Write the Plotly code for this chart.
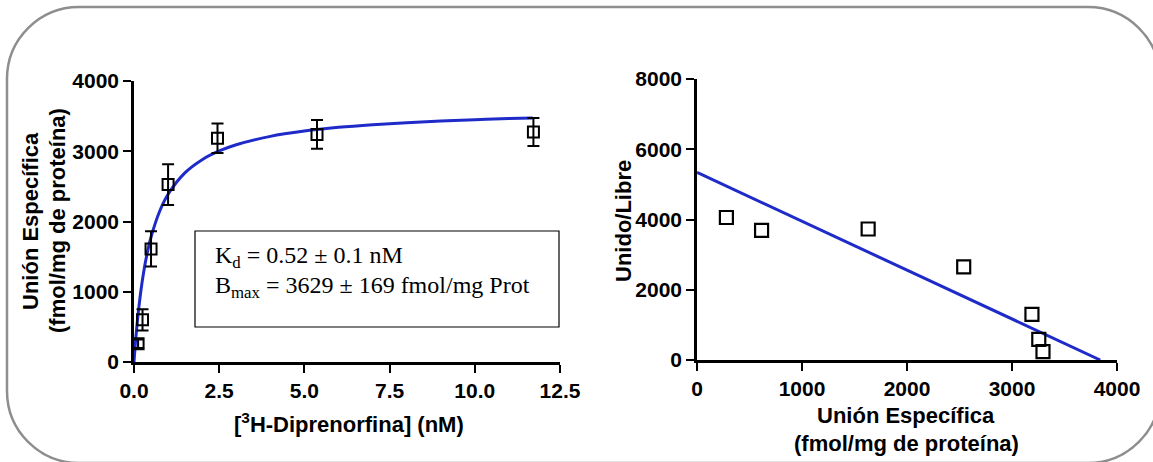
import plotly.graph_objects as go

W, H = 1153, 462

# ---- Saturation data (left) ----
conc_nM = [0.12, 0.25, 0.5, 1.0, 2.45, 5.37, 11.72]
bound = [260, 600, 1610, 2525, 3185, 3240, 3275]
bound_err = [60, 150, 250, 290, 210, 205, 200]

# fitted hyperbola
fit_x = [0.0, 0.05, 0.1, 0.2, 0.3, 0.4, 0.5, 0.75, 1.0, 1.5, 2.0, 2.5, 3.0, 4.0,
         5.0, 6.0, 7.0, 8.0, 9.0, 10.0, 11.0, 11.7]
fit_y = [0, 318, 585, 1008, 1328, 1578, 1779, 2143, 2388, 2695, 2880, 3004, 3093,
         3212, 3287, 3340, 3378, 3407, 3431, 3450, 3465, 3475]

# ---- Scatchard data (right) ----
sc_bound = [280, 615, 1630, 2540, 3190, 3255, 3295]
sc_ratio = [4057, 3690, 3730, 2650, 1300, 585, 240]
sc_line_x = [0, 3840]
sc_line_y = [5340, 0]

left_xticks = [0, 2.5, 5, 7.5, 10, 12.5]
left_yticks = [0, 1000, 2000, 3000, 4000]
right_xticks = [0, 1000, 2000, 3000, 4000]
right_yticks = [0, 2000, 4000, 6000, 8000]

BLUE = "#1f2bc8"
FONT = "Arial, 'Liberation Sans', sans-serif"
SERIF = "'Times New Roman', 'Liberation Serif', serif"


def px(x):
    return x / W


def py(y):
    return 1 - y / H


fig = go.Figure()

fig.add_trace(go.Scatter(x=fit_x, y=fit_y, mode="lines", line=dict(color=BLUE, width=3, shape="spline"),
                         xaxis="x", yaxis="y", showlegend=False, hoverinfo="skip", cliponaxis=False))
fig.add_trace(go.Scatter(x=conc_nM, y=bound, mode="markers",
                         marker=dict(symbol="square-open", size=11, color="black", line=dict(width=2)),
                         error_y=dict(type="data", array=bound_err, color="black", thickness=2, width=6),
                         xaxis="x", yaxis="y", showlegend=False, cliponaxis=False))

fig.add_trace(go.Scatter(x=sc_line_x, y=sc_line_y, mode="lines", line=dict(color=BLUE, width=3),
                         xaxis="x2", yaxis="y2", showlegend=False, hoverinfo="skip", cliponaxis=False))
fig.add_trace(go.Scatter(x=sc_bound, y=sc_ratio, mode="markers",
                         marker=dict(symbol="square-open", size=13, color="black", line=dict(width=2.2)),
                         xaxis="x2", yaxis="y2", showlegend=False, cliponaxis=False))

axis_common = dict(showgrid=False, zeroline=False, showline=True, linecolor="black", linewidth=2.5,
                   ticks="outside", ticklen=8, tickwidth=2, tickcolor="black",
                   tickfont=dict(family=FONT, size=21, color="black", weight="bold"),
                   fixedrange=True, automargin=False)

fig.update_layout(
    width=W, height=H, autosize=False,
    margin=dict(l=0, r=0, t=0, b=0, pad=0, autoexpand=False),
    paper_bgcolor="white", plot_bgcolor="white",
    xaxis=dict(domain=[px(134), px(560)], range=[0, 12.5], tickvals=left_xticks, tickformat=".1f",
               anchor="y", **axis_common),
    yaxis=dict(domain=[py(362), py(81)], range=[0, 4000], tickvals=left_yticks,
               anchor="x", **axis_common),
    xaxis2=dict(domain=[px(697), px(1117)], range=[0, 4000], tickvals=right_xticks,
                anchor="y2", **axis_common),
    yaxis2=dict(domain=[py(360), py(79)], range=[0, 8000], tickvals=right_yticks,
                anchor="x2", **axis_common),
)

# rounded border (bottom/right partially outside the canvas)
L, T, R, B, r = 7, 7, 1160, 463, 72
k = 0.5523 * r
pts = [
    ("M", [(L + r, T)]),
    ("L", [(R - r, T)]),
    ("C", [(R - r + k, T), (R, T + r - k), (R, T + r)]),
    ("L", [(R, B - r)]),
    ("C", [(R, B - r + k), (R - r + k, B), (R - r, B)]),
    ("L", [(L + r, B)]),
    ("C", [(L + r - k, B), (L, B - r + k), (L, B - r)]),
    ("L", [(L, T + r)]),
    ("C", [(L, T + r - k), (L + r - k, T), (L + r, T)]),
]
path = ""
for cmd, ps in pts:
    path += cmd + " " + " ".join(f"{px(a):.5f},{py(b):.5f}" for a, b in ps) + " "
path += "Z"
fig.add_shape(type="path", path=path, xref="paper", yref="paper",
              line=dict(color="#8e8e8e", width=2.5), layer="below")

# parameter box
fig.add_shape(type="rect", xref="paper", yref="paper", x0=px(195), x1=px(559), y0=py(327), y1=py(231),
              line=dict(color="black", width=1.2), fillcolor="rgba(0,0,0,0)")
box_font = dict(family=SERIF, size=24, color="black")
fig.add_annotation(xref="paper", yref="paper", x=px(213), y=py(257), xanchor="left", yanchor="middle",
                   text="K<sub>d</sub> = 0.52 ± 0.1 nM", showarrow=False, font=box_font)
fig.add_annotation(xref="paper", yref="paper", x=px(213), y=py(287), xanchor="left", yanchor="middle",
                   text="B<sub>max</sub> = 3629 ± 169 fmol/mg Prot", showarrow=False, font=box_font)

title_font = dict(family=FONT, size=22, color="black")


def title(x, y, text, angle=0):
    fig.add_annotation(xref="paper", yref="paper", x=px(x), y=py(y), text="<b>" + text + "</b>",
                       textangle=angle, xanchor="center", yanchor="middle", showarrow=False,
                       font=title_font)


# left axis titles
title(31, 221, "Unión Específica", -90)
title(58, 221, "(fmol/mg de proteína)", -90)
title(349, 423, "[<sup>3</sup>H-Diprenorfina] (nM)")
# right axis titles
title(624, 221, "Unido/Libre", -90)
title(906, 415, "Unión Específica")
title(906, 443, "(fmol/mg de proteína)")

fig.write_html("out.html")
